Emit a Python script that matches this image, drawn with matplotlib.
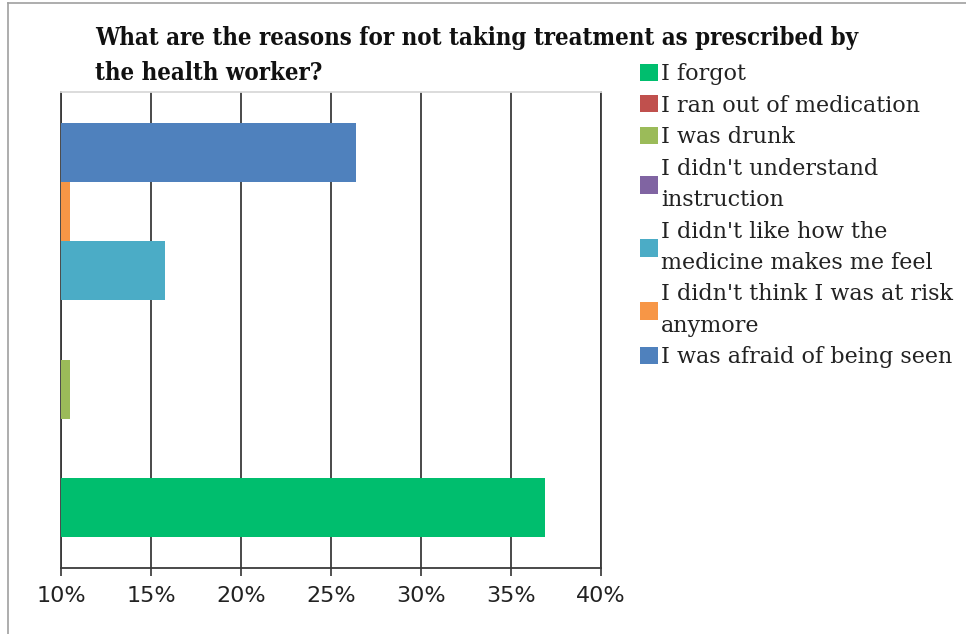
import matplotlib.pyplot as plt
from matplotlib.lines import Line2D

# Datos (porcentajes)
series = ['I forgot', 'I ran out of medication', 'I was drunk',
          "I didn't understand\ninstruction",
          "I didn't like how the\nmedicine makes me feel",
          "I didn't think I was at risk\nanymore",
          'I was afraid of being seen']
valores = [36.9, 0.0, 10.5, 0.0, 15.8, 10.5, 26.4]
colores = ['#00BE6E', '#C0504D', '#9BBB59', '#8064A2', '#4BACC6', '#F79646', '#4F81BD']
ticks = [10, 15, 20, 25, 30, 35, 40]
titulo = ['What are the reasons for not taking treatment as prescribed by', 'the health worker?']

fig = plt.figure(figsize=(9.66, 6.34), dpi=100)
ax = fig.add_axes([0.0631, 0.1041, 0.5591, 0.7508])

for i, (s, v, c) in enumerate(zip(series, valores, colores)):
    ax.barh(i, v, height=1.0, color=c, label=s, zorder=3)

ax.set_xlim(10, 40)
ax.set_ylim(-1.02, 7.02)
ax.set_xticks(ticks)
ax.set_xticklabels([f'{t}%' for t in ticks], fontsize=16, family='DejaVu Sans', color='#222222')
ax.set_yticks([])
ax.tick_params(axis='x', length=6, width=1.2, color='#333333', pad=7, direction='out')

ax.grid(axis='x', color='#3a3a3a', linewidth=1.3, zorder=1)
for lado in ['left', 'bottom', 'right']:
    ax.spines[lado].set_color('#3a3a3a')
    ax.spines[lado].set_linewidth(1.3)
ax.spines['top'].set_color('#d9d9d9')
ax.spines['top'].set_linewidth(1.3)

# Título en dos líneas
for linea, y in zip(titulo, [38, 73]):
    fig.text(95 / 966, 1 - y / 634, linea,
             family='DejaVu Serif', fontweight='bold', fontstretch='condensed', fontsize=17.2,
             ha='left', va='center', color='#111111')

# Leyenda
leg = ax.legend(loc='upper left', bbox_to_anchor=(640 / 966, 1 - 63 / 634), bbox_transform=fig.transFigure,
                frameon=False, prop={'family': 'DejaVu Serif', 'size': 16},
                handlelength=0.82, handleheight=0.82, handletextpad=0.12,
                labelspacing=0.43, borderpad=0, borderaxespad=0)
for t in leg.get_texts():
    t.set_linespacing(1.55)
    t.set_color('#222222')

# Marco exterior (solo arriba e izquierda visibles)
fig.add_artist(Line2D([8 / 966, 1], [1 - 3 / 634, 1 - 3 / 634], transform=fig.transFigure, color='#a0a0a0', lw=1.2))
fig.add_artist(Line2D([8 / 966, 8 / 966], [0, 1 - 3 / 634], transform=fig.transFigure, color='#a0a0a0', lw=1.2))

plt.savefig('out.png', dpi=100)
plt.close()
